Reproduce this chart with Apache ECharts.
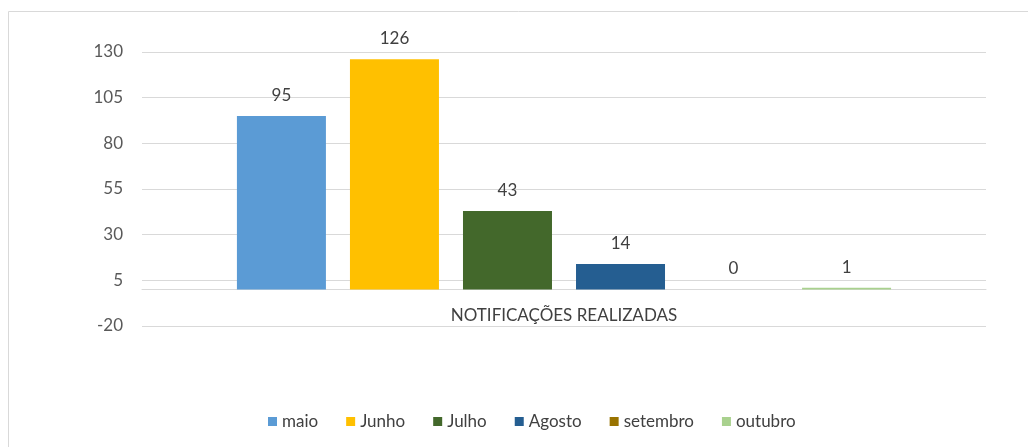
<!DOCTYPE html>
<html>
<head>
<meta charset="utf-8">
<script src="https://cdn.jsdelivr.net/npm/echarts@6/dist/echarts.min.js"></script>
<style>
  html, body { margin: 0; padding: 0; background: #fff; }
  #chart { width: 1028px; height: 447px; }
</style>
</head>
<body>
<div id="chart"></div>
<script>
// dados
var categorias = ['NOTIFICAÇÕES REALIZADAS'];
var meses = ['maio', 'Junho', 'Julho', 'Agosto', 'setembro', 'outubro'];
var valores = [95, 126, 43, 14, 0, 1];
var cores = ['#5B9BD5', '#FFC000', '#43682B', '#255E91', '#997300', '#A9D18E'];
var ticksY = { min: -20, max: 130, interval: 25 };

var fonte = 'Lato';
var myChart = echarts.init(document.getElementById('chart'));

var series = meses.map(function (m, i) {
    return {
        name: m,
        type: 'bar',
        data: [valores[i]],
        barWidth: 89,
        barGap: '27%',
        itemStyle: { color: cores[i] },
        label: {
            show: true,
            position: 'top',
            distance: 12,
            color: '#404040',
            fontSize: 17,
            fontFamily: fonte
        }
    };
});

var option = {
    animation: false,
    color: cores,
    graphic: [{
        type: 'rect',
        shape: { x: 8.5, y: 11.5, width: 1100, height: 500 },
        style: { fill: 'none', stroke: '#d9d9d9', lineWidth: 1 },
        silent: true
    }],
    grid: { left: 142, right: 42, top: 52, bottom: 121 },
    legend: {
        bottom: 12,
        left: 263,
        itemWidth: 9,
        itemHeight: 9,
        itemGap: 28,
        icon: 'rect',
        textStyle: { color: '#404040', fontSize: 17, fontFamily: fonte },
        data: meses
    },
    xAxis: {
        type: 'category',
        data: categorias,
        axisLine: { lineStyle: { color: '#d9d9d9' } },
        axisTick: { show: false },
        // rótulo logo abaixo da linha do zero
        axisLabel: { color: '#404040', fontSize: 17, fontFamily: fonte, margin: -19 }
    },
    yAxis: {
        type: 'value',
        min: ticksY.min,
        max: ticksY.max,
        interval: ticksY.interval,
        axisLine: { show: false },
        axisTick: { show: false },
        splitLine: { lineStyle: { color: '#d9d9d9' } },
        axisLabel: { color: '#595959', fontSize: 17, fontFamily: fonte, margin: 19 }
    },
    series: series
};

myChart.setOption(option);
</script>
</body>
</html>
